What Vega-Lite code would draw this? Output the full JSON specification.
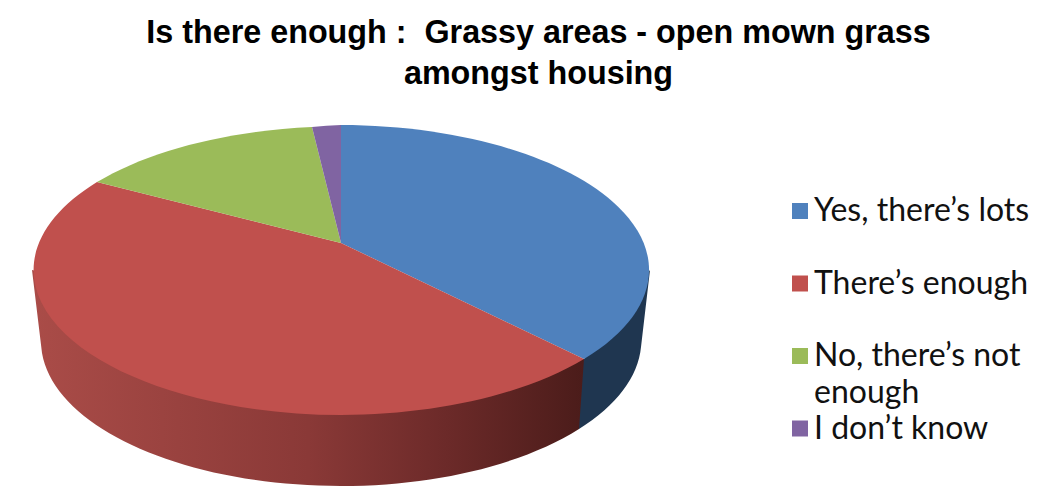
{"$schema":"https://vega.github.io/schema/vega-lite/v6.json","description":"Perspective 3D pie. Vega-Lite arcs cannot be elliptical, so wedge outlines are hand-traced custom symbol paths; they are not computed from share. share values are estimated from the picture.","width":1037,"height":486,"padding":0,"autosize":{"type":"none"},"background":"white","config":{"view":{"stroke":null},"style":{"guide-label":{"lineHeight":37}}},"title":{"text":["Is there enough :\u00a0\u00a0Grassy areas - open mown grass","amongst housing"],"font":"Liberation Sans","fontSize":32.3,"fontWeight":"bold","color":"#000000","anchor":"middle","frame":"group","offset":0,"dx":20,"dy":90,"lineHeight":41},"data":{"values":[{"answer":"Yes, there’s lots","share":37},{"answer":"There’s enough","share":47},{"answer":"No, there’s not enough","share":14},{"answer":"I don’t know","share":2}]},"encoding":{"fill":{"field":"answer","type":"nominal","scale":{"domain":["Yes, there’s lots","There’s enough","No, there’s not enough","I don’t know"],"range":["#4F81BD","#C0504D","#9BBB59","#8064A2"]},"legend":{"orient":"none","legendX":784,"legendY":195,"title":null,"symbolType":"square","symbolSize":256,"labelFont":"Lato","labelFontSize":32,"labelColor":"#111111","labelLimit":300,"labelOffset":-2,"rowPadding":3.5,"labelExpr":"datum.label === 'No, there’s not enough' ? ['No, there’s not', 'enough'] : [datum.label, '']","encode":{"labels":{"update":{"lineHeight":{"value":37}}}}}},"tooltip":{"field":"share","type":"quantitative"}},"layer":[{"transform":[{"filter":"datum.answer === 'Yes, there’s lots'"}],"mark":{"type":"point","filled":true,"opacity":1,"size":4,"strokeWidth":0,"shape":"M50,116 L65.5,116 L131.5,27 L122.5,104 A300,145 0 0 1 60.5,186 L50,186 Z"},"encoding":{"fill":{"value":"#1F3650"}}},{"transform":[{"filter":"datum.answer === 'There’s enough'"}],"mark":{"type":"point","filled":true,"opacity":1,"size":4,"strokeWidth":0,"shape":"M65.5,116 L-177.5,100 L-486.5,27 L-476.5,110 A300,145 0 0 0 -177.5,243 A300,145 0 0 0 60.5,186 Z"},"encoding":{"fill":{"value":{"gradient":"linear","x1":0,"y1":0,"x2":1,"y2":0,"stops":[{"offset":0,"color":"#AA4C48"},{"offset":0.5,"color":"#8A3937"},{"offset":0.75,"color":"#6C2A29"},{"offset":1,"color":"#4B1C1A"}]}}}},{"transform":[{"filter":"datum.answer === 'Yes, there’s lots'"}],"mark":{"type":"point","filled":true,"opacity":1,"size":4,"strokeWidth":0,"shape":"M-177.5,0 L-177.5,-118 A309,145 0 0 1 65.5,116 Z"}},{"transform":[{"filter":"datum.answer === 'There’s enough'"}],"mark":{"type":"point","filled":true,"opacity":1,"size":4,"strokeWidth":0,"shape":"M-177.5,0 L65.5,116 A309,145 0 0 1 -177.5,172 A309,145 0 0 1 -421.5,-61 Z"}},{"transform":[{"filter":"datum.answer === 'No, there’s not enough'"}],"mark":{"type":"point","filled":true,"opacity":1,"size":4,"strokeWidth":0,"shape":"M-177.5,0 L-421.5,-61 A309,145 0 0 1 -206.5,-116 Z"}},{"transform":[{"filter":"datum.answer === 'I don’t know'"}],"mark":{"type":"point","filled":true,"opacity":1,"size":4,"strokeWidth":0,"shape":"M-177.5,0 L-206.5,-116 A309,145 0 0 1 -177.5,-118 Z"}}]}
